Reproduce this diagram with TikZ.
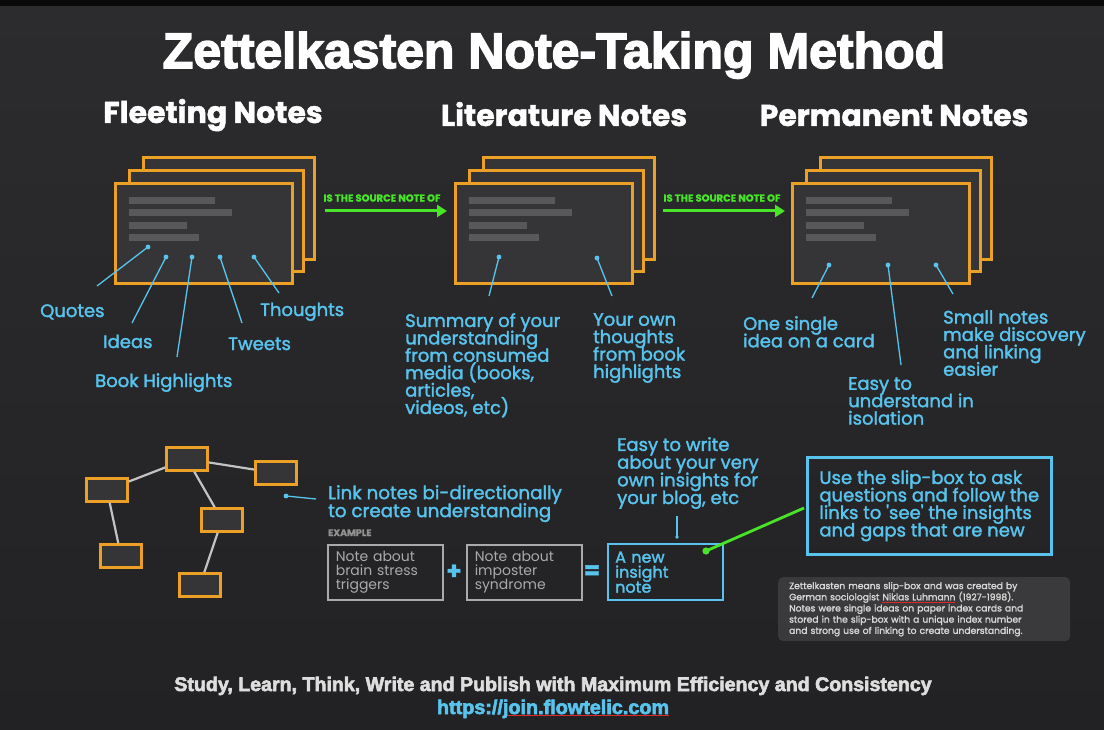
\documentclass[tikz,border=0pt]{standalone}
\usepackage{fontspec}
\usetikzlibrary{arrows.meta,calc}
\setmainfont{Poppins}
\newfontfamily\popfont{Poppins}[BoldFeatures={FakeBold=1.5}]
\newfontfamily\labfont{Poppins}[FakeBold=1.8,Ligatures=TeXOff]
\newfontfamily\arialfont{Liberation Sans}[BoldFeatures={FakeBold=3}]
\lineskiplimit=-50pt
\definecolor{bgtop}{RGB}{44,44,46}
\definecolor{bgmid}{RGB}{58,58,60}
\definecolor{bgbot}{RGB}{34,34,36}
\definecolor{cardfill}{RGB}{53,53,55}
\definecolor{org}{RGB}{236,160,38}
\definecolor{lblue}{RGB}{88,196,238}
\definecolor{grn}{RGB}{72,228,40}
\definecolor{bar}{RGB}{88,88,90}
\definecolor{lnk}{RGB}{195,195,195}
\definecolor{exg}{RGB}{170,170,170}
\definecolor{infofill}{RGB}{58,58,60}
\definecolor{infotext}{RGB}{215,215,215}
\definecolor{foot}{RGB}{222,222,222}
\definecolor{ulred}{RGB}{220,40,40}
\newcommand\tightlines{\lineskiplimit=-50pt\relax}
\newcommand\redul[1]{\setbox0\hbox{#1}\rlap{\textcolor{ulred}{\rule[-2.4pt]{\wd0}{1pt}}}\box0\relax}
\newcommand\cardstack[2]{%
  \node[card, minimum width=171pt, minimum height=102pt] (#1c) at (#2+28,156) {};
  \node[card, minimum width=174pt, minimum height=101pt] (#1b) at (#2+14,169) {};
  \node[card, minimum width=177pt, minimum height=100pt] (#1a) at (#2,182) {};
  \foreach \yy/\ll in {201/86,213/103,226/58,238/70}
    \fill[bar] (#2+15,\yy-3.5) rectangle ++(\ll,7);
}
\tikzset{
  card/.style={draw=org, line width=2.6pt, fill=cardfill, anchor=north west, inner sep=0pt},
  gbox/.style={draw=org, line width=2.4pt, fill=cardfill, minimum width=41pt, minimum height=23pt, inner sep=0pt},
  glink/.style={draw=lnk, line width=2.2pt},
  ptr/.style={draw=lblue, line width=1.3pt},
  garrow/.style={draw=grn, line width=3pt, -{Triangle[length=10pt,width=12pt]}},
  srclabel/.style={text=grn, font=\popfont\bfseries\fontsize{10}{11}\selectfont, inner sep=0pt},
  lbl/.style={text=lblue, font=\labfont\fontsize{18}{17.4}\selectfont\tightlines, inner sep=0pt, align=left},
  hdr/.style={text=white, font=\popfont\bfseries\fontsize{30}{32}\selectfont, inner sep=0pt, anchor=base},
  exbox/.style={draw=exg, line width=1.6pt, minimum width=115pt, minimum height=55pt, anchor=north west,
    inner xsep=8pt, inner ysep=0pt, text width=99pt, align=left, text=exg,
    font=\popfont\fontsize{14}{14}\selectfont\tightlines},
}
\begin{document}
\begin{tikzpicture}[x=1pt,y=-1pt]
\useasboundingbox (0,0) rectangle (1104,730);
\shade[top color=bgtop, middle color=bgmid, bottom color=bgbot] (0,0) rectangle (1104,730);
\fill[black!80!bgtop] (0,0) rectangle (1104,6);

% title
\node[text=white, font=\arialfont\bfseries\fontsize{50}{54}\selectfont, inner sep=0pt, anchor=base] (title) at (554,68) {Zettelkasten Note-Taking Method};

% headers
\node[hdr] (hfleet) at (213,123) {Fleeting Notes};
\node[hdr] (hlit) at (564,126) {Literature Notes};
\node[hdr] (hperm) at (894,126) {Permanent Notes};

% card stacks
\cardstack{fl}{114}
\cardstack{li}{454}
\cardstack{pe}{791}

% source arrows
\coordinate (a1s) at (325,211); \coordinate (a1e) at (447,211);
\coordinate (a2s) at (663,211); \coordinate (a2e) at (785,211);
\draw[garrow] (a1s) -- (a1e);
\draw[garrow] (a2s) -- (a2e);
\node[srclabel] (src1) at (382,198) {IS THE SOURCE NOTE OF};
\node[srclabel] (src2) at (722,198) {IS THE SOURCE NOTE OF};

% pointers
\foreach \n/\a/\b in {q/{148,247}/{97,286}, i/{166,257}/{132,323}, bh/{192,257}/{177,357},
    tw/{220,257}/{242,323}, th/{254,257}/{279,293},
    su/{499,257}/{489,296}, yo/{597,258}/{612,296},
    on/{829,265}/{812,298}, ea/{888,265}/{901,365}, sm/{936,265}/{953,294},
    lk/{286,496}/{316,499}}{
  \coordinate (\n-s) at (\a);
  \coordinate (\n-e) at (\b);
  \draw[ptr] (\n-s) -- (\n-e);
  \fill[lblue] (\n-s) circle (2.4pt);
}

% fleeting labels
\node[lbl, anchor=base west] (lq) at (40,317) {Quotes};
\node[lbl, anchor=base west] (li) at (103,348) {Ideas};
\node[lbl, anchor=base west] (lbh) at (95,387) {Book Highlights};
\node[lbl, anchor=base west] (ltw) at (228,350) {Tweets};
\node[lbl, anchor=base west] (lth) at (260,316) {Thoughts};

% literature labels
\node[lbl, anchor=north west] (lsu) at (405,313) {Summary of your\\understanding\\from consumed\\media (books,\\articles,\\videos, etc)};
\node[lbl, anchor=north west] (lyo) at (593,313) {Your own\\thoughts\\from book\\highlights};

% permanent labels
\node[lbl, anchor=north west] (lon) at (743,316) {One single\\idea on a card};
\node[lbl, anchor=north west] (lsm) at (943,310) {Small notes\\make discovery\\and linking\\easier};
\node[lbl, anchor=north west] (lea) at (848,377) {Easy to\\understand in\\isolation};

% graph of notes
\node[gbox] (gA) at (187,459) {};
\node[gbox] (gB) at (107,490) {};
\node[gbox] (gC) at (276,473) {};
\node[gbox] (gD) at (222,520) {};
\node[gbox] (gE) at (121,556) {};
\node[gbox] (gF) at (200,585) {};
\draw[glink] (gA) -- (gB);
\draw[glink] (gA) -- (gC);
\draw[glink] (gA) -- (gD);
\draw[glink] (gB) -- (gE);
\draw[glink] (gD) -- (gF);

\node[lbl, anchor=north west, font=\labfont\fontsize{18.3}{18}\selectfont\tightlines] (llink) at (328,485) {Link notes bi-directionally\\to create understanding};
\node[text=exg!85!black, font=\popfont\bfseries\fontsize{9.5}{10}\selectfont, inner sep=0pt, anchor=base west] (lex) at (328,536) {EXAMPLE};

% example equation
\node[exbox] (ex1) at (327,544) {Note about\\brain stress\\triggers};
\node[exbox] (ex2) at (466,544) {Note about\\imposter\\syndrome};
\node[text=lblue, font=\popfont\bfseries\fontsize{24}{24}\selectfont, inner sep=0pt] (plus) at (454,572) {+};
\node[text=lblue, font=\popfont\bfseries\fontsize{24}{24}\selectfont, inner sep=0pt] (eq) at (592,572) {=};
\node[draw=lblue, line width=2.4pt, minimum width=115pt, minimum height=56pt, anchor=north west,
  inner xsep=7pt, inner ysep=0pt, text width=101pt, align=left, text=lblue,
  font=\labfont\fontsize{16}{15}\selectfont\tightlines] (newnote) at (607,543) {A new\\insight\\note};

\node[lbl, anchor=north west, font=\labfont\fontsize{18}{17.7}\selectfont\tightlines] (lwrite) at (617,437) {Easy to write\\about your very\\own insights for\\your blog, etc};
\coordinate (wr-s) at (677,516);
\coordinate (wr-e) at (677,537);
\draw[ptr] (wr-s) -- (wr-e);
\fill[lblue] (wr-e) circle (1.8pt);

% slip-box box
\node[draw=lblue, line width=2.6pt, minimum width=244pt, minimum height=97pt, anchor=north west,
  inner xsep=12pt, inner ysep=0pt, align=left, text=lblue,
  font=\labfont\fontsize{18}{17.5}\selectfont\tightlines] (slip) at (806,456) {Use the slip-box to ask\\questions and follow the\\links to 'see' the insights\\and gaps that are new};
\coordinate (gd) at (706,551);
\coordinate (ge) at (804,508);
\draw[draw=grn, line width=2.8pt] (gd) -- (ge);
\fill[grn] (gd) circle (3.6pt);

% info box
\node[fill=infofill, rounded corners=5pt, minimum width=290pt, minimum height=64pt, anchor=north west,
  inner xsep=11pt, inner ysep=0pt, text width=270pt, align=left, text=infotext,
  font=\labfont\fontsize{9.2}{11.2}\selectfont\tightlines] (info) at (778,577) {Zettelkasten means slip-box and was created by\\German sociologist \redul{Niklas Luhmann} (1927-1998).\\Notes were single ideas on paper index cards and\\stored in the slip-box with a unique index number\\and strong use of linking to create understanding.};

% footer
\node[text=foot, font=\arialfont\bfseries\fontsize{19.6}{20}\selectfont, inner sep=0pt, anchor=base] (foot) at (553,691) {Study, Learn, Think, Write and Publish with Maximum Efficiency and Consistency};
\node[text=lblue, font=\arialfont\bfseries\fontsize{19.8}{20}\selectfont, inner sep=0pt, anchor=base] (url) at (553,714) {https://\redul{join.flowtelic.com}};
\end{tikzpicture}
\end{document}
